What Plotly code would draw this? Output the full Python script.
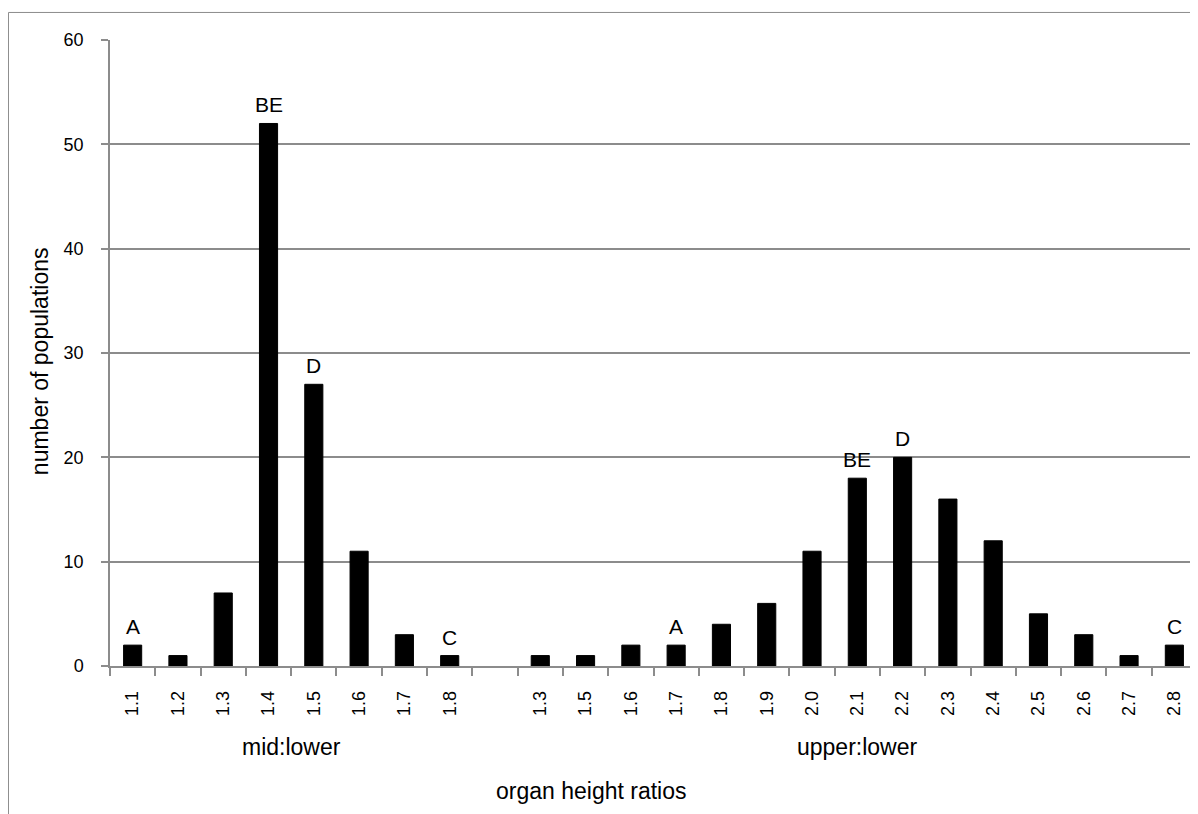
import plotly.graph_objects as go

# ---- data ----
categories = ["1.1", "1.2", "1.3", "1.4", "1.5", "1.6", "1.7", "1.8", "",
              "1.3", "1.5", "1.6", "1.7", "1.8", "1.9", "2.0", "2.1", "2.2",
              "2.3", "2.4", "2.5", "2.6", "2.7", "2.8"]
counts = [2, 1, 7, 52, 27, 11, 3, 1, None,
          1, 1, 2, 2, 4, 6, 11, 18, 20, 16, 12, 5, 3, 1, 2]
bar_letters = ["A", "", "", "BE", "D", "", "", "C", "",
               "", "", "", "A", "", "", "", "BE", "D", "", "", "", "", "", "C"]
group_names = ["mid:lower", "upper:lower"]
group_members = [list(range(0, 8)), list(range(9, 24))]
y_ticks = [0, 10, 20, 30, 40, 50, 60]

FONT = "Liberation Sans"
GREY = "#8c8c8c"

xpos = list(range(len(categories)))

fig = go.Figure()
fig.add_trace(go.Bar(
    x=xpos, y=counts, width=0.4,
    marker=dict(color="black", line=dict(color="black", width=1)),
    showlegend=False, hoverinfo="skip",
))

annotations = []
for i, (lab, v) in enumerate(zip(bar_letters, counts)):
    if lab and v is not None:
        annotations.append(dict(
            x=i, y=v, xref="x", yref="y", text=lab, showarrow=False,
            yanchor="bottom", yshift=5,
            font=dict(family=FONT, size=21, color="black"),
        ))

for name, members in zip(group_names, group_members):
    annotations.append(dict(
        x=(members[0] + members[-1]) / 2, y=-0.105, xref="x", yref="paper",
        text=name, showarrow=False, yanchor="top",
        font=dict(family=FONT, size=23, color="black"),
    ))

annotations.append(dict(
    x=0.443, y=-0.176, xref="paper", yref="paper", text="organ height ratios",
    showarrow=False, yanchor="top", xanchor="center",
    font=dict(family=FONT, size=23, color="black"),
))
annotations.append(dict(
    x=-0.0644, y=0.487, xref="paper", yref="paper", text="number of populations",
    showarrow=False, textangle=-90, xanchor="center", yanchor="middle",
    font=dict(family=FONT, size=23, color="black"),
))

fig.update_layout(
    width=1190, height=806,
    margin=dict(l=102, r=1, t=32, b=148),
    paper_bgcolor="white", plot_bgcolor="white",
    annotations=annotations,
    shapes=[dict(type="rect", xref="paper", yref="paper",
                 x0=-0.0934, x1=1.05, y0=-0.4, y1=1.044,
                 line=dict(color=GREY, width=1), fillcolor="rgba(0,0,0,0)",
                 layer="below")],
)

fig.update_xaxes(
    range=[-0.5, len(categories) - 0.5],
    tickmode="array", tickvals=xpos, ticktext=categories,
    tickangle=-90, ticks="", ticklabelstandoff=16,
    tickfont=dict(family=FONT, size=18, color="black"),
    showline=True, linecolor=GREY, linewidth=1.5,
    showgrid=False, zeroline=False,
    minor=dict(tickmode="array", tickvals=[i - 0.5 for i in range(len(categories) + 1)],
               ticks="outside", ticklen=8, tickcolor=GREY, tickwidth=1.5, showgrid=False),
)

fig.update_yaxes(
    range=[0, 60], tickmode="array", tickvals=y_ticks,
    ticks="outside", ticklen=7, tickcolor=GREY, tickwidth=1.5,
    ticklabelstandoff=14,
    tickfont=dict(family=FONT, size=18, color="black"),
    showline=True, linecolor=GREY, linewidth=1.5,
    showgrid=True, gridcolor=GREY, gridwidth=1.5, zeroline=False,
)

fig.write_html("out.html")
